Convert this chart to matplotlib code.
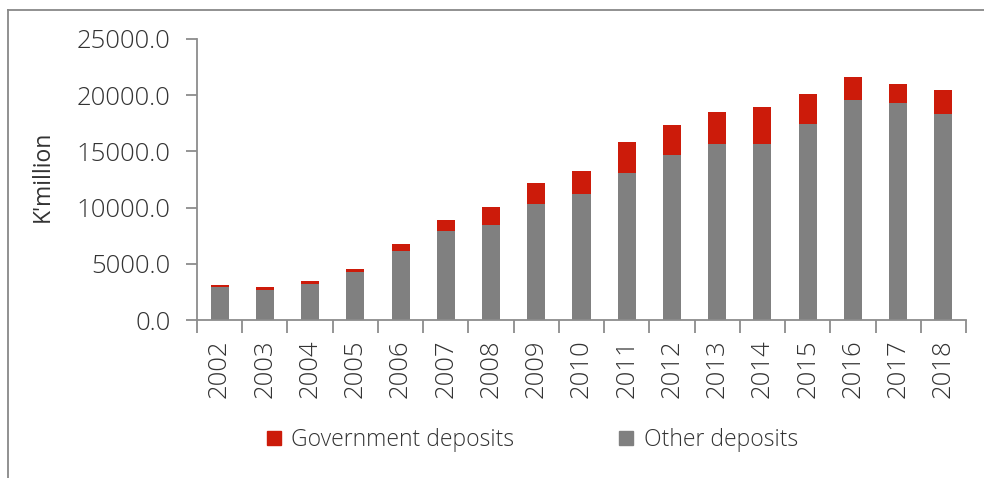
import matplotlib
matplotlib.use("Agg")
import matplotlib.pyplot as plt
from matplotlib.patches import Patch
from matplotlib.lines import Line2D
from matplotlib.ticker import FormatStrFormatter, FixedLocator

plt.rcParams['font.family'] = ['Open Sans', 'DejaVu Sans']
plt.rcParams['font.weight'] = 'light'

# data (K'million)
anos = ['2002', '2003', '2004', '2005', '2006', '2007', '2008', '2009', '2010',
        '2011', '2012', '2013', '2014', '2015', '2016', '2017', '2018']
outros = [2940, 2700, 3180, 4250, 6150, 7930, 8460, 10330, 11190,
          13120, 14700, 15620, 15680, 17460, 19600, 19330, 18320]
governo = [180, 210, 260, 320, 590, 1010, 1600, 1840, 2080,
           2700, 2670, 2850, 3230, 2670, 2050, 1690, 2140]

cinza = '#808080'
vermelho = '#CC1B0A'
eixo = '#8C8C8C'
texto = '#333333'

fig = plt.figure(figsize=(9.84, 4.78), dpi=100)
ax = fig.add_axes([197/984, 1 - 320/478, (966-197)/984, (320-39)/478])

x = range(len(anos))
ax.bar(x, outros, width=0.4, color=cinza, label='Other deposits', zorder=2)
ax.bar(x, governo, width=0.4, bottom=outros, color=vermelho,
       label='Government deposits', zorder=2)

ax.set_xlim(-0.5, len(anos) - 0.5)
ax.set_ylim(0, 25000)
ax.set_yticks(range(0, 25001, 5000))
ax.yaxis.set_major_formatter(FormatStrFormatter('%.1f'))
ax.set_xticks(list(x))
ax.set_xticklabels(anos, rotation=90)
ax.xaxis.set_minor_locator(FixedLocator([i - 0.5 for i in range(len(anos) + 1)]))

for s in ['top', 'right']:
    ax.spines[s].set_visible(False)
for s in ['left', 'bottom']:
    ax.spines[s].set_color(eixo)
    ax.spines[s].set_linewidth(1.3)

ax.tick_params(axis='y', length=8, width=1.3, color=eixo, pad=11,
               labelsize=18.5, labelcolor=texto)
ax.tick_params(axis='x', which='major', length=0, pad=14,
               labelsize=18.5, labelcolor=texto)
ax.tick_params(axis='x', which='minor', length=9, width=1.3, color=eixo)

ax.set_ylabel("K'million", fontsize=16.5, color=texto)
ax.yaxis.set_label_coords(-0.185, 0.51)

handles = [Patch(color=vermelho, label='Government deposits'),
           Patch(color=cinza, label='Other deposits')]
fig.legend(handles=handles, loc='center', bbox_to_anchor=(0.541, 0.079),
           ncol=2, frameon=False, fontsize=16.5, handlelength=0.6,
           handleheight=0.6, handletextpad=0.45, columnspacing=4.6,
           labelcolor=texto)

# moldura cinza do gráfico
fig.add_artist(Line2D([8/984, 8/984], [0, 1 - 10/478], color='#888888', lw=1.3))
fig.add_artist(Line2D([8/984, 1], [1 - 10/478, 1 - 10/478], color='#888888', lw=1.3))

fig.savefig('out.png', dpi=100)
